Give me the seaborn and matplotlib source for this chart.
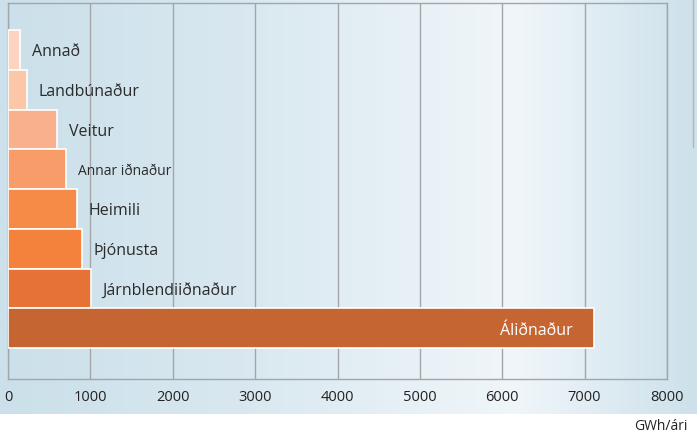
import numpy as np
import pandas as pd
import matplotlib
matplotlib.use("Agg")
import matplotlib.pyplot as plt
import seaborn as sns
from matplotlib.colors import LinearSegmentedColormap
from matplotlib.lines import Line2D

categories = ["Annað", "Landbúnaður", "Veitur", "Annar iðnaður", "Heimili",
              "Þjónusta", "Járnblendiiðnaður", "Áliðnaður"]
values = [145, 230, 595, 705, 835, 895, 1005, 7110]
bar_colors = ["#fdd3c2", "#fcc6a8", "#f9b08c", "#f89c6a", "#f68a47",
              "#f4823d", "#e77236", "#c56632"]
x_ticks = [0, 1000, 2000, 3000, 4000, 5000, 6000, 7000, 8000]
unit_label = "GWh/ári"

df = pd.DataFrame({"flokkur": categories, "gwh": values})

sns.set_style("white")
plt.rcParams["font.family"] = ["Open Sans", "DejaVu Sans"]

W, H = 697, 435
fig = plt.figure(figsize=(W / 100, H / 100), dpi=100)

# blue gradient panel behind the chart
bg = fig.add_axes([0, 20 / H, 1, 415 / H])
bg.set_axis_off()
grad_cmap = LinearSegmentedColormap.from_list(
    "panel", [(0, "#cbe0ea"), (0.35, "#d9e8f0"), (0.74, "#f0f6fa"), (1, "#cde1eb")])
bg.imshow(np.linspace(0, 1, 256)[None, :], aspect="auto", cmap=grad_cmap,
          extent=[0, 1, 0, 1])
fig.add_artist(Line2D([693 / W, 693 / W], [1, 1 - 148 / H],
                      transform=fig.transFigure, color="#b8b4aa", lw=1))

ax = fig.add_axes([8 / W, 55 / H, 659 / W, 376 / H])
ax.patch.set_alpha(0)
sns.barplot(data=df, x="gwh", y="flokkur", hue="flokkur", palette=bar_colors,
            order=categories, hue_order=categories, width=1.0, orient="h",
            saturation=1, edgecolor="white", linewidth=1.2, legend=False,
            ax=ax, zorder=3)

ax.set_xlim(0, 8000)
ax.set_ylim(7 + 1.28, -1.18)
ax.set_xticks(x_ticks)
ax.set_xticklabels([str(t) for t in x_ticks], fontsize=10.5, color="#222222")
ax.set_yticks([])
ax.set_xlabel("")
ax.set_ylabel("")
ax.tick_params(axis="x", length=0, pad=7)
ax.grid(axis="x", color="#a3a5a8", lw=1, zorder=1)
for s in ax.spines.values():
    s.set_color("#a3a5a8")
    s.set_linewidth(1)

for i, (name, val) in enumerate(zip(categories, values)):
    if name == "Áliðnaður":
        ax.annotate(name, (val, i), xytext=(-15, -1), textcoords="offset points",
                    ha="right", va="center", color="white", fontsize=11.5, zorder=5)
    else:
        fs = 10 if name == "Annar iðnaður" else 11.5
        ax.annotate(name, (val, i), xytext=(8.5, -1), textcoords="offset points",
                    ha="left", va="center", color="#2b2b2b", fontsize=fs, zorder=5)

fig.text(688 / W, 1 / H, unit_label, ha="right", va="bottom", fontsize=10,
         color="#222222")

fig.savefig("out.png", dpi=100)
